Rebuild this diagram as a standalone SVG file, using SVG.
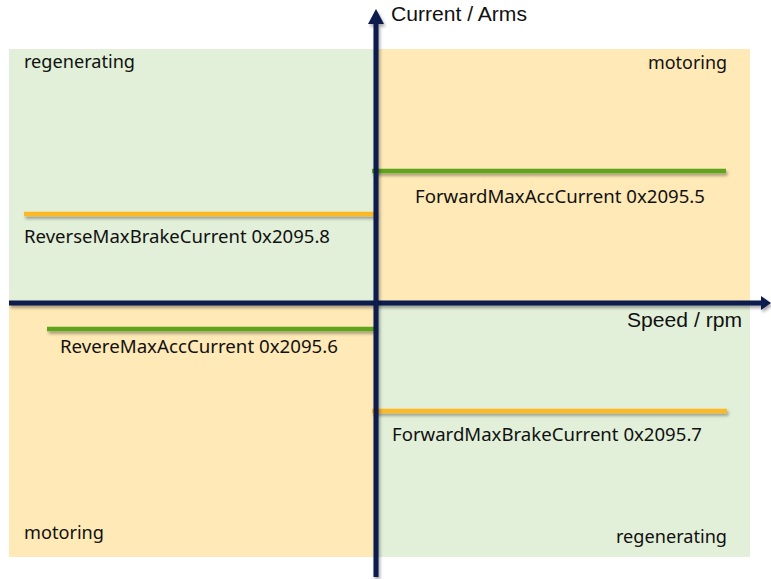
<svg xmlns="http://www.w3.org/2000/svg" width="771" height="579" viewBox="0 0 771 579">
<style>
.q-green{fill:#E2F0D9}
.q-orange{fill:#FFE9B6}
.lbl{font-family:"Noto Sans","Open Sans",sans-serif;font-size:17.5px;fill:#111}
.ax{font-family:"Liberation Sans",Arial,sans-serif;font-size:19.5px;fill:#111}
.gl{stroke:#5FA41F;stroke-width:4.5;fill:none}
.ol{stroke:#FDB826;stroke-width:4.5;fill:none}
.axis{stroke:#0C1A4E;stroke-width:5;fill:none}
</style>
<defs>
<filter id="sh" filterUnits="userSpaceOnUse" x="0" y="0" width="771" height="579">
<feDropShadow dx="1.5" dy="2.5" stdDeviation="1.5" flood-color="#000" flood-opacity="0.35"/>
</filter>
</defs>
<g id="quadrants">
<rect id="q2" class="q-green" x="9" y="49" width="367" height="254"/>
<rect id="q1" class="q-orange" x="376" y="49" width="374" height="254"/>
<rect id="q3" class="q-orange" x="9" y="303" width="367" height="254"/>
<rect id="q4" class="q-green" x="376" y="303" width="374" height="254"/>
</g>
<g id="quadrant-labels">
<text class="lbl" x="24" y="68" textLength="111" lengthAdjust="spacingAndGlyphs">regenerating</text>
<text class="lbl" x="648" y="69" textLength="79" lengthAdjust="spacingAndGlyphs">motoring</text>
<text class="lbl" x="24" y="539" textLength="80" lengthAdjust="spacingAndGlyphs">motoring</text>
<text class="lbl" x="616" y="543" textLength="111" lengthAdjust="spacingAndGlyphs">regenerating</text>
</g>
<g id="limits">
<g id="fwd-acc">
<line class="gl" x1="372" y1="171" x2="726" y2="171" filter="url(#sh)"/>
<text class="lbl" x="415" y="203" textLength="290" lengthAdjust="spacingAndGlyphs">ForwardMaxAccCurrent 0x2095.5</text>
</g>
<g id="rev-brake">
<line class="ol" x1="24" y1="214" x2="376" y2="214" filter="url(#sh)"/>
<text class="lbl" x="24" y="243" textLength="306" lengthAdjust="spacingAndGlyphs">ReverseMaxBrakeCurrent 0x2095.8</text>
</g>
<g id="rev-acc">
<line class="gl" x1="47" y1="329" x2="376" y2="329" filter="url(#sh)"/>
<text class="lbl" x="60" y="353" textLength="278" lengthAdjust="spacingAndGlyphs">RevereMaxAccCurrent 0x2095.6</text>
</g>
<g id="fwd-brake">
<line class="ol" x1="372" y1="411" x2="727" y2="411" filter="url(#sh)"/>
<text class="lbl" x="392" y="441" textLength="310" lengthAdjust="spacingAndGlyphs">ForwardMaxBrakeCurrent 0x2095.7</text>
</g>
</g>
<g id="connectors">
<g id="x-axis" filter="url(#sh)">
<line class="axis" x1="9" y1="303" x2="762" y2="303"/>
<polygon points="771,303 761,296 761,310" fill="#0C1A4E"/>
</g>
<g id="y-axis" filter="url(#sh)">
<line class="axis" x1="376" y1="577" x2="376" y2="22"/>
<polygon points="376,9 368,24 384,24" fill="#0C1A4E"/>
</g>
</g>
<g id="axis-labels">
<text class="ax" x="391" y="21" textLength="136" lengthAdjust="spacingAndGlyphs">Current / Arms</text>
<text class="ax" x="627" y="327" textLength="115" lengthAdjust="spacingAndGlyphs">Speed / rpm</text>
</g>
</svg>
